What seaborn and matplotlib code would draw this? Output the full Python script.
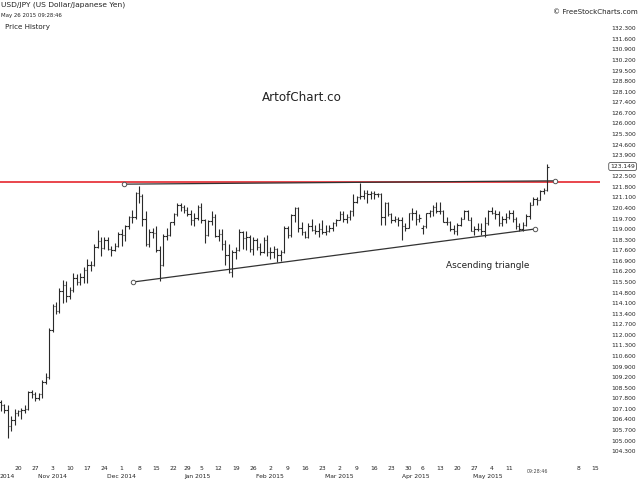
import matplotlib
matplotlib.use('Agg')
import matplotlib.pyplot as plt
import matplotlib.transforms as mtransforms
import numpy as np
import pandas as pd
import seaborn as sns

# trading days shown (forex feed skips these holidays)
holidays = ['2014-12-25', '2015-01-01', '2015-04-03']
dates = pd.bdate_range('2014-10-13', '2015-05-26')
dates = dates[~dates.isin(pd.to_datetime(holidays))]
future = pd.bdate_range('2015-05-27', '2015-06-19')

opens = [107.55, 107.35, 107.00, 105.95, 106.35, 106.85, 106.95, 107.00, 107.10, 108.20,
         108.10, 107.80, 108.10, 108.90, 109.20, 112.30, 113.90, 113.55, 114.90, 115.30,
         114.60, 114.95, 115.75, 115.50, 115.80, 116.30, 116.60, 116.60, 117.85, 118.20,
         117.75, 118.25, 117.70, 117.60, 117.90, 118.70, 118.60, 119.20, 119.80, 119.80,
         121.40, 121.20, 119.70, 118.00, 118.80, 118.75, 117.60, 116.60, 118.55, 118.60,
         119.45, 120.00, 120.60, 120.45, 120.30, 120.00, 119.60, 119.75, 120.50, 119.60,
         118.60, 119.55, 119.80, 118.55, 118.70, 118.00, 117.30, 116.15, 117.50, 117.60,
         118.80, 118.40, 118.50, 117.70, 118.30, 117.80, 117.50, 118.30, 117.50, 117.50,
         117.70, 117.30, 117.50, 119.10, 118.60, 119.95, 120.40, 119.10, 118.80, 118.50,
         119.20, 118.95, 118.90, 119.00, 118.80, 118.90, 119.10, 119.40, 119.60, 120.00,
         119.70, 119.80, 120.20, 120.80, 121.10, 121.20, 121.40, 121.30, 121.40, 121.30,
         121.35, 119.80, 120.70, 120.00, 119.60, 119.70, 119.60, 119.20, 119.10, 120.05,
         120.10, 119.70, 119.10, 119.20, 120.10, 120.20, 120.50, 120.20, 120.20, 119.50,
         119.50, 119.00, 118.90, 119.30, 119.70, 120.20, 119.60, 118.90, 119.00, 119.00,
         118.90, 119.40, 120.20, 120.10, 120.00, 119.40, 119.70, 119.80, 120.10, 119.70,
         119.20, 119.00, 119.30, 119.90, 120.60, 121.00, 120.90, 121.50, 121.60]
highs = [107.70, 107.45, 107.35, 106.60, 107.10, 107.05, 107.15, 107.35, 108.25, 108.35,
         108.20, 108.15, 109.00, 109.45, 112.45, 114.05, 114.20, 115.10, 115.60, 115.55,
         115.15, 116.10, 116.00, 116.10, 116.50, 117.05, 116.90, 118.00, 118.95, 118.45,
         118.50, 118.45, 117.90, 118.05, 118.80, 119.00, 119.30, 119.90, 120.25, 121.45,
         121.85, 121.30, 120.20, 119.00, 119.10, 119.20, 117.90, 118.70, 119.10, 119.50,
         120.10, 120.70, 120.70, 120.60, 120.50, 120.30, 120.10, 120.60, 120.70, 119.70,
         119.60, 120.20, 120.00, 119.00, 119.00, 118.30, 118.00, 117.60, 117.80, 119.00,
         118.90, 118.90, 118.60, 118.50, 118.40, 118.10, 118.50, 118.60, 117.80, 117.90,
         117.75, 117.60, 119.20, 119.20, 120.00, 120.50, 120.50, 119.50, 118.90, 119.40,
         119.70, 119.30, 119.40, 119.60, 119.30, 119.30, 119.50, 119.70, 120.20, 120.20,
         120.00, 120.30, 121.30, 121.20, 122.03, 121.60, 121.60, 121.50, 121.50, 121.40,
         121.40, 120.80, 120.80, 120.05, 119.90, 119.80, 119.80, 119.40, 120.10, 120.40,
         120.30, 120.00, 119.30, 120.10, 120.30, 120.60, 120.80, 120.80, 120.30, 119.80,
         119.55, 119.30, 119.40, 119.80, 120.30, 120.25, 119.80, 119.20, 119.40, 119.40,
         119.80, 120.30, 120.50, 120.30, 120.20, 119.90, 120.10, 120.30, 120.30, 119.80,
         119.40, 119.50, 120.00, 120.80, 121.10, 121.10, 121.60, 121.70, 123.30]
lows = [106.95, 106.85, 105.20, 105.60, 106.05, 106.60, 106.40, 106.80, 107.00, 107.85,
        107.60, 107.70, 107.80, 108.75, 109.10, 112.20, 113.35, 113.45, 114.10, 114.15,
        114.40, 114.85, 115.30, 115.30, 115.45, 115.45, 116.20, 116.55, 117.75, 117.25,
        117.70, 117.60, 117.20, 117.55, 117.80, 117.90, 118.20, 119.00, 119.40, 119.70,
        120.70, 119.20, 117.90, 117.80, 118.40, 117.50, 115.57, 116.55, 118.30, 118.55,
        119.30, 119.90, 120.20, 120.10, 119.90, 119.30, 119.20, 119.60, 119.40, 118.05,
        118.55, 119.30, 118.50, 118.20, 117.60, 116.60, 116.10, 115.86, 117.00, 117.55,
        117.70, 117.60, 117.50, 117.30, 117.60, 117.30, 117.40, 117.20, 117.00, 117.10,
        116.85, 116.90, 117.40, 118.40, 118.50, 119.50, 118.80, 118.60, 118.40, 118.40,
        118.90, 118.70, 118.50, 118.70, 118.60, 118.80, 118.90, 119.20, 119.60, 119.50,
        119.40, 119.60, 119.90, 120.70, 121.00, 121.00, 120.70, 121.00, 121.00, 121.10,
        119.30, 119.30, 119.90, 119.40, 119.50, 119.20, 118.30, 118.90, 119.10, 119.60,
        119.30, 119.50, 118.70, 119.10, 119.80, 119.90, 120.10, 120.00, 119.50, 119.30,
        118.90, 118.70, 118.60, 119.20, 119.70, 119.60, 118.90, 118.60, 118.90, 118.60,
        118.50, 119.30, 120.00, 119.70, 119.20, 119.20, 119.40, 119.70, 119.50, 119.00,
        118.90, 118.90, 119.20, 119.70, 120.60, 120.60, 120.90, 121.30, 121.50]
closes = [107.35, 107.00, 105.95, 106.35, 106.85, 106.95, 107.00, 107.10, 108.20, 108.10,
          107.80, 108.10, 108.90, 109.20, 112.30, 113.90, 113.55, 114.90, 115.30, 114.60,
          114.95, 115.75, 115.50, 115.80, 116.30, 116.60, 116.60, 117.85, 118.20, 117.75,
          118.25, 117.70, 117.60, 117.90, 118.70, 118.60, 119.20, 119.80, 119.80, 121.40,
          121.20, 119.70, 118.00, 118.80, 118.75, 117.60, 116.60, 118.55, 118.60, 119.45,
          120.00, 120.60, 120.45, 120.30, 120.00, 119.60, 119.75, 120.50, 119.60, 118.60,
          119.55, 119.80, 118.55, 118.70, 118.00, 117.30, 116.15, 117.50, 117.60, 118.80,
          118.40, 118.50, 117.70, 118.30, 117.80, 117.50, 118.30, 117.50, 117.50, 117.70,
          117.30, 117.50, 119.10, 118.60, 119.95, 120.40, 119.10, 118.80, 118.50, 119.20,
          118.95, 118.90, 119.00, 118.80, 118.90, 119.10, 119.40, 119.60, 120.00, 119.70,
          119.80, 120.20, 120.80, 121.10, 121.20, 121.40, 121.30, 121.40, 121.30, 121.35,
          119.80, 120.70, 120.00, 119.60, 119.70, 119.60, 119.20, 119.10, 120.05, 120.10,
          119.70, 119.75, 119.20, 120.10, 120.20, 120.50, 120.20, 120.20, 119.50, 119.50,
          119.00, 118.90, 119.30, 119.70, 120.20, 119.60, 118.90, 119.00, 119.00, 118.90,
          119.40, 120.20, 120.10, 120.00, 119.40, 119.70, 119.80, 120.10, 119.70, 119.20,
          119.00, 119.30, 119.90, 120.60, 121.00, 120.90, 121.50, 121.60, 123.149]

last_price = 123.149
resistance = 122.12
# drawn trendlines: (bar position, price) at each end
upper_x = [35.6, 160.3]
upper_y = [121.98, 122.20]
lower_x = [38.3, 154.5]
lower_y = [115.50, 119.01]
price_ticks = np.round(np.arange(104.3, 132.31, 0.7), 1)
hidden_days = ['2015-05-18', '2015-05-25', '2015-06-01']

sns.set_theme(style='white')
plt.rcParams['font.family'] = ['DejaVu Sans']
txt = '#222222'
bar_col = '#2a2a2a'

fig = plt.figure(figsize=(6.4, 4.8), dpi=100)
ax = fig.add_axes([0, 20 / 480, 600 / 640, 440 / 480])

x = np.arange(len(dates))
ax.vlines(x, lows, highs, color=bar_col, lw=0.8)
ax.hlines(opens, x - 0.42, x, color=bar_col, lw=0.8)
ax.hlines(closes, x, x + 0.42, color=bar_col, lw=0.8)

ax.axhline(resistance, color='#e3131b', lw=1.1, zorder=1)
for xs, ys in [(upper_x, upper_y), (lower_x, lower_y)]:
    sns.lineplot(x=xs, y=ys, ax=ax, color='#333333', lw=0.9, marker='o', markersize=3.2,
                 markerfacecolor='white', markeredgecolor='#555555', markeredgewidth=0.7)

ax.set_xlim(-0.2, 173.3)
ax.set_ylim(103.712, 132.851)

# weekly day labels and month labels
all_dates = dates.append(future)
day_pos, day_lab, mon_pos, mon_lab = [], [], [], []
prev_month = dates[0].month
for i, d in enumerate(all_dates):
    if i < len(dates) and d.month != prev_month:
        mon_pos.append(i)
        mon_lab.append(d.strftime('%b %Y'))
        prev_month = d.month
    if d.weekday() == 0 and i > 0 and d.strftime('%Y-%m-%d') not in hidden_days:
        day_pos.append(i)
        day_lab.append(str(d.day))
ax.xaxis.remove_overlapping_locs = False
ax.set_xticks(day_pos)
ax.set_xticklabels(day_lab)
ax.set_xticks(mon_pos, minor=True)
ax.set_xticklabels(mon_lab, minor=True)
ax.tick_params(axis='x', which='major', length=0, pad=4.0, labelsize=4.3, colors=txt)
ax.tick_params(axis='x', which='minor', length=0, pad=10.0, labelsize=4.3, colors=txt)
# first month label sits at the very left edge, only its year is visible
ax.text(0, -0.0375, dates[0].strftime('%Y'), transform=ax.transAxes, ha='left', va='center',
        fontsize=4.3, color=txt)

ax.yaxis.tick_right()
ax.set_yticks(price_ticks)
ax.set_yticklabels([f'{v:.3f}' for v in price_ticks])
ax.tick_params(axis='y', length=0, pad=8.0, labelsize=4.3, colors=txt)
ax.grid(False)
for s in ax.spines.values():
    s.set_visible(False)

trans_y = mtransforms.blended_transform_factory(ax.transAxes, ax.transData)
ax.text(1.017, last_price, f'{last_price:.3f}', transform=trans_y, ha='left', va='center',
        fontsize=4.3, color=txt,
        bbox=dict(boxstyle='round,pad=0.25,rounding_size=0.3', fc='white', ec='#555555', lw=0.6))
trans_x = mtransforms.blended_transform_factory(ax.transData, ax.transAxes)
ax.text(len(dates) - 0.7, -0.027, '09:28:46', transform=trans_x, ha='right', va='center',
        fontsize=3.4, color='#444444')

ax.text(0.503, 0.825, 'ArtofChart.co', transform=ax.transAxes, ha='center', va='center',
        fontsize=8.6, color=txt)
ax.text(0.813, 0.443, 'Ascending triangle', transform=ax.transAxes, ha='center', va='center',
        fontsize=6.4, color=txt)

fig.text(1 / 640, 1 - 5 / 480, 'USD/JPY (US Dollar/Japanese Yen)', ha='left', va='center',
         fontsize=5.4, color=txt)
fig.text(1 / 640, 1 - 16 / 480, 'May 26 2015 09:28:46', ha='left', va='center',
         fontsize=3.9, color=txt)
fig.text(5 / 640, 1 - 27 / 480, 'Price History', ha='left', va='center',
         fontsize=5.1, color=txt)
fig.text(638 / 640, 1 - 12 / 480, '\u00a9 FreeStockCharts.com', ha='right', va='center',
         fontsize=5.1, color=txt)

fig.savefig('out.png', dpi=100, facecolor='white')
